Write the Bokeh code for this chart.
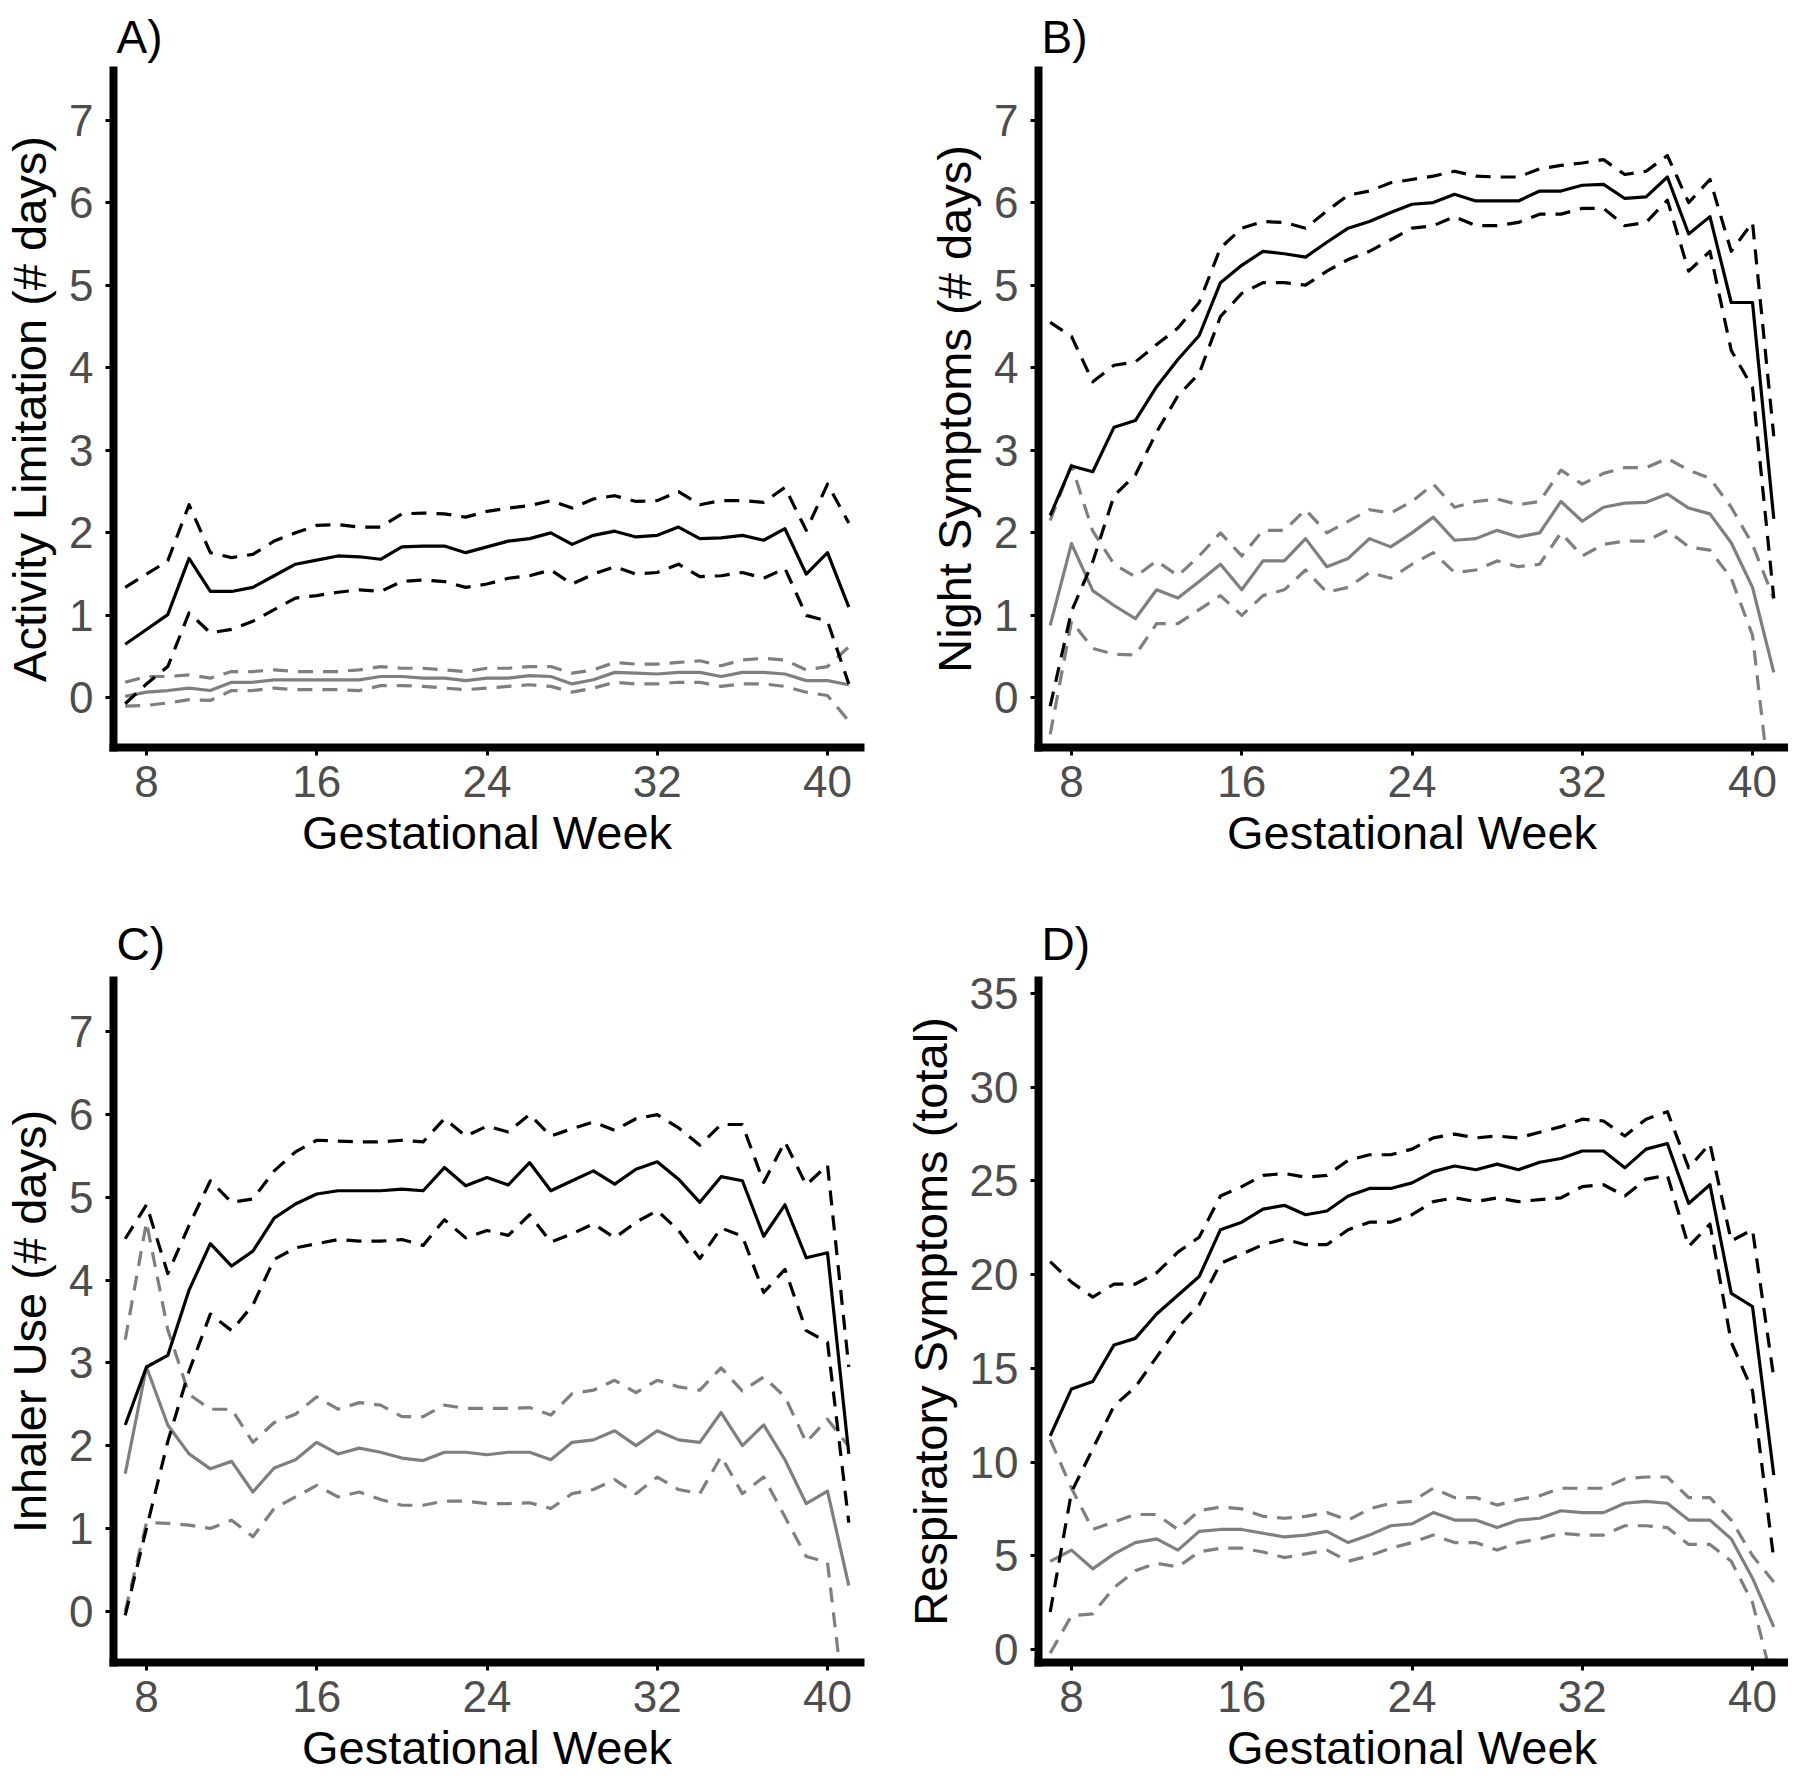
from bokeh.plotting import figure
from bokeh.layouts import gridplot
from bokeh.models import FixedTicker, Range1d, ColumnDataSource
from bokeh.embed import file_html
from bokeh.resources import INLINE

weeks = list(range(7, 42))
x_ticks = [8, 16, 24, 32, 40]

# Panel A: Activity Limitation
a_mean = [0.65, 0.83, 1.01, 1.69, 1.29, 1.29, 1.34, 1.48, 1.62, 1.67, 1.72, 1.71, 1.68, 1.83, 1.84, 1.84, 1.76, 1.83, 1.90, 1.93, 2.00, 1.86, 1.97, 2.02, 1.95, 1.97, 2.07, 1.93, 1.94, 1.97, 1.91, 2.05, 1.50, 1.76, 1.10]
a_hi = [1.34, 1.50, 1.66, 2.34, 1.76, 1.70, 1.74, 1.90, 2.00, 2.09, 2.10, 2.07, 2.07, 2.23, 2.24, 2.23, 2.19, 2.26, 2.30, 2.33, 2.39, 2.30, 2.41, 2.45, 2.38, 2.39, 2.50, 2.34, 2.39, 2.39, 2.37, 2.55, 2.03, 2.59, 2.12]
a_lo = [-0.07, 0.17, 0.38, 1.03, 0.79, 0.83, 0.93, 1.07, 1.21, 1.24, 1.28, 1.31, 1.29, 1.41, 1.43, 1.41, 1.34, 1.38, 1.45, 1.48, 1.55, 1.38, 1.50, 1.59, 1.50, 1.52, 1.62, 1.47, 1.48, 1.52, 1.45, 1.57, 1.00, 0.93, 0.17]
a_g_mean = [0.02, 0.07, 0.09, 0.12, 0.09, 0.19, 0.19, 0.22, 0.22, 0.22, 0.22, 0.22, 0.26, 0.26, 0.24, 0.24, 0.21, 0.24, 0.24, 0.27, 0.26, 0.17, 0.22, 0.31, 0.30, 0.29, 0.31, 0.31, 0.26, 0.31, 0.31, 0.29, 0.21, 0.21, 0.16]
a_g_hi = [0.19, 0.26, 0.26, 0.28, 0.24, 0.32, 0.32, 0.34, 0.32, 0.32, 0.32, 0.34, 0.38, 0.36, 0.36, 0.34, 0.32, 0.36, 0.36, 0.38, 0.38, 0.30, 0.34, 0.43, 0.41, 0.41, 0.43, 0.45, 0.39, 0.46, 0.48, 0.46, 0.34, 0.38, 0.62]
a_g_lo = [-0.10, -0.09, -0.06, -0.02, -0.03, 0.09, 0.09, 0.12, 0.10, 0.10, 0.10, 0.09, 0.15, 0.15, 0.14, 0.12, 0.10, 0.12, 0.14, 0.16, 0.14, 0.07, 0.12, 0.19, 0.17, 0.17, 0.19, 0.19, 0.14, 0.17, 0.17, 0.14, 0.07, 0.03, -0.28]

# Panel B: Night Symptoms
b_mean = [2.21, 2.81, 2.74, 3.28, 3.36, 3.77, 4.10, 4.39, 5.03, 5.24, 5.41, 5.38, 5.34, 5.52, 5.69, 5.77, 5.88, 5.98, 6.00, 6.10, 6.02, 6.02, 6.02, 6.14, 6.14, 6.21, 6.22, 6.05, 6.07, 6.31, 5.62, 5.83, 4.79, 4.79, 2.17]
b_hi = [4.55, 4.38, 3.83, 4.03, 4.07, 4.28, 4.48, 4.79, 5.45, 5.69, 5.77, 5.76, 5.69, 5.90, 6.09, 6.14, 6.24, 6.28, 6.32, 6.38, 6.32, 6.31, 6.31, 6.41, 6.45, 6.48, 6.52, 6.34, 6.38, 6.57, 6.00, 6.28, 5.41, 5.76, 3.17]
b_lo = [-0.10, 1.05, 1.65, 2.45, 2.70, 3.22, 3.66, 3.93, 4.62, 4.90, 5.03, 5.03, 5.00, 5.17, 5.31, 5.41, 5.55, 5.69, 5.72, 5.83, 5.72, 5.72, 5.76, 5.86, 5.86, 5.93, 5.93, 5.72, 5.76, 6.03, 5.17, 5.41, 4.21, 3.76, 1.21]
b_g_mean = [0.88, 1.87, 1.30, 1.12, 0.96, 1.31, 1.21, 1.41, 1.62, 1.31, 1.66, 1.66, 1.93, 1.59, 1.69, 1.93, 1.83, 2.00, 2.19, 1.91, 1.93, 2.03, 1.95, 2.00, 2.38, 2.14, 2.31, 2.36, 2.37, 2.47, 2.30, 2.23, 1.88, 1.34, 0.31]
b_g_hi = [2.15, 2.82, 2.02, 1.62, 1.47, 1.66, 1.48, 1.72, 2.00, 1.72, 2.03, 2.03, 2.28, 2.00, 2.14, 2.28, 2.24, 2.38, 2.59, 2.31, 2.38, 2.41, 2.34, 2.38, 2.76, 2.59, 2.72, 2.79, 2.79, 2.90, 2.76, 2.66, 2.31, 1.86, 1.20]
b_g_lo = [-0.44, 0.93, 0.60, 0.53, 0.52, 0.90, 0.90, 1.07, 1.24, 1.00, 1.24, 1.31, 1.55, 1.28, 1.34, 1.52, 1.45, 1.62, 1.76, 1.52, 1.55, 1.66, 1.59, 1.62, 2.00, 1.72, 1.86, 1.90, 1.90, 2.03, 1.83, 1.79, 1.45, 0.76, -1.50]

# Panel C: Inhaler Use
c_mean = [2.25, 2.95, 3.09, 3.88, 4.44, 4.17, 4.35, 4.75, 4.92, 5.04, 5.08, 5.08, 5.08, 5.10, 5.08, 5.36, 5.14, 5.24, 5.15, 5.42, 5.08, 5.20, 5.32, 5.16, 5.34, 5.43, 5.22, 4.94, 5.25, 5.20, 4.53, 4.91, 4.27, 4.33, 1.90]
c_hi = [4.50, 4.91, 4.08, 4.66, 5.20, 4.94, 4.98, 5.32, 5.55, 5.69, 5.68, 5.67, 5.67, 5.69, 5.67, 5.95, 5.74, 5.86, 5.79, 6.00, 5.74, 5.83, 5.91, 5.81, 5.95, 6.00, 5.84, 5.63, 5.88, 5.88, 5.18, 5.67, 5.15, 5.39, 2.95]
c_lo = [-0.05, 1.00, 2.05, 2.90, 3.59, 3.39, 3.70, 4.25, 4.39, 4.44, 4.49, 4.47, 4.47, 4.49, 4.42, 4.73, 4.51, 4.60, 4.54, 4.79, 4.46, 4.56, 4.68, 4.51, 4.70, 4.84, 4.60, 4.26, 4.63, 4.53, 3.85, 4.13, 3.39, 3.25, 1.07]
c_g_mean = [1.66, 2.95, 2.25, 1.90, 1.72, 1.81, 1.44, 1.73, 1.83, 2.04, 1.90, 1.97, 1.92, 1.85, 1.82, 1.92, 1.92, 1.89, 1.92, 1.92, 1.83, 2.04, 2.07, 2.18, 2.00, 2.18, 2.07, 2.04, 2.40, 2.00, 2.25, 1.83, 1.30, 1.45, 0.31]
c_g_hi = [3.28, 4.70, 3.40, 2.62, 2.44, 2.44, 2.04, 2.28, 2.38, 2.59, 2.44, 2.52, 2.49, 2.35, 2.35, 2.49, 2.45, 2.45, 2.45, 2.46, 2.37, 2.63, 2.67, 2.79, 2.64, 2.79, 2.71, 2.67, 2.94, 2.66, 2.83, 2.59, 2.04, 2.32, 1.99]
c_g_lo = [0.00, 1.07, 1.06, 1.04, 1.00, 1.10, 0.90, 1.24, 1.38, 1.52, 1.38, 1.44, 1.35, 1.28, 1.28, 1.33, 1.33, 1.30, 1.30, 1.31, 1.24, 1.42, 1.47, 1.59, 1.42, 1.62, 1.47, 1.42, 1.87, 1.42, 1.62, 1.14, 0.66, 0.59, -1.60]

# Panel D: Respiratory Symptoms (total)
d_mean = [11.4, 13.9, 14.3, 16.25, 16.6, 17.9, 18.9, 19.9, 22.4, 22.8, 23.5, 23.7, 23.2, 23.4, 24.2, 24.6, 24.6, 24.9, 25.5, 25.8, 25.6, 25.9, 25.6, 26.0, 26.2, 26.6, 26.6, 25.7, 26.7, 27.0, 23.8, 24.8, 19.0, 18.3, 9.3]
d_hi = [20.7, 19.6, 18.8, 19.5, 19.5, 20.1, 21.2, 22.0, 24.2, 24.7, 25.3, 25.4, 25.2, 25.3, 26.1, 26.4, 26.4, 26.7, 27.3, 27.5, 27.3, 27.4, 27.3, 27.6, 27.9, 28.3, 28.2, 27.4, 28.3, 28.7, 25.7, 27.0, 21.8, 22.4, 14.5]
d_lo = [2.0, 8.4, 10.7, 13.0, 14.0, 15.6, 17.2, 18.4, 20.6, 21.1, 21.6, 21.9, 21.6, 21.6, 22.4, 22.8, 22.8, 23.2, 23.9, 24.1, 23.9, 24.1, 23.9, 24.0, 24.1, 24.7, 24.8, 24.2, 25.1, 25.3, 21.5, 22.7, 16.4, 13.8, 4.8]
d_g_mean = [4.7, 5.3, 4.3, 5.1, 5.7, 5.9, 5.3, 6.3, 6.4, 6.4, 6.2, 6.0, 6.1, 6.3, 5.7, 6.1, 6.6, 6.7, 7.3, 6.9, 6.9, 6.5, 6.9, 7.0, 7.4, 7.3, 7.3, 7.8, 7.9, 7.8, 6.9, 6.9, 5.9, 3.8, 1.2]
d_g_hi = [11.2, 8.6, 6.4, 6.8, 7.2, 7.2, 6.4, 7.4, 7.6, 7.5, 7.1, 7.0, 7.1, 7.3, 6.9, 7.5, 7.8, 7.9, 8.6, 8.1, 8.1, 7.7, 8.0, 8.2, 8.6, 8.6, 8.6, 9.1, 9.2, 9.2, 8.1, 8.1, 6.9, 5.0, 3.6]
d_g_lo = [-0.2, 1.8, 1.9, 3.3, 4.2, 4.6, 4.4, 5.2, 5.4, 5.4, 5.2, 4.9, 5.1, 5.3, 4.7, 5.0, 5.4, 5.7, 6.1, 5.7, 5.7, 5.3, 5.7, 5.9, 6.2, 6.1, 6.1, 6.6, 6.6, 6.5, 5.6, 5.6, 4.7, 2.5, -2.0]

y_ticks_days = [0, 1, 2, 3, 4, 5, 6, 7]
y_ticks_total = [0, 5, 10, 15, 20, 25, 30, 35]

FONT = "Liberation Sans"
GREY = "#7F7F7F"
DASH = "15 10"


def make_panel(label, ytitle, series, yrange, yticks, left, right, top, bottom, fh, tstand):
    src = ColumnDataSource(dict(week=weeks, mean=series[0], hi=series[1], lo=series[2],
                                g_mean=series[3], g_hi=series[4], g_lo=series[5]))
    p = figure(frame_width=747, frame_height=fh,
               x_range=Range1d(6.45, 41.55), y_range=Range1d(*yrange),
               output_backend="svg", toolbar_location=None,
               min_border_left=left, min_border_right=right,
               min_border_top=top, min_border_bottom=bottom)
    p.title.text = label
    p.title.align = "left"
    p.title.text_font = FONT
    p.title.text_font_size = "46px"
    p.title.text_font_style = "normal"
    p.title.text_color = "black"
    p.title.standoff = tstand
    p.title.offset = 3

    p.xgrid.grid_line_color = None
    p.ygrid.grid_line_color = None
    p.outline_line_color = None

    for col, dash in (("g_hi", DASH), ("g_lo", DASH), ("g_mean", "solid")):
        p.line("week", col, source=src, line_color=GREY, line_width=3.2,
               line_dash=dash, line_join="round")
    for col, dash in (("hi", DASH), ("lo", DASH), ("mean", "solid")):
        p.line("week", col, source=src, line_color="black", line_width=3.2,
               line_dash=dash, line_join="round")

    p.xaxis.ticker = FixedTicker(ticks=x_ticks)
    p.yaxis.ticker = FixedTicker(ticks=yticks)
    p.xaxis.axis_label = "Gestational Week"
    p.yaxis.axis_label = ytitle
    for ax in (p.xaxis[0], p.yaxis[0]):
        ax.axis_line_width = 8
        ax.axis_line_color = "black"
        ax.axis_line_cap = "square"
        ax.major_tick_line_width = 3
        ax.major_tick_line_color = "black"
        ax.major_tick_out = 8
        ax.major_tick_in = 0
        ax.minor_tick_line_color = None
        ax.major_label_text_font = FONT
        ax.major_label_text_font_size = "44px"
        ax.major_label_text_color = "#4D4D4D"
        ax.axis_label_text_font = FONT
        ax.axis_label_text_font_size = "47px"
        ax.axis_label_text_font_style = "normal"
        ax.axis_label_text_color = "black"
    p.xaxis.major_label_standoff = 10
    p.xaxis.axis_label_standoff = 6
    p.yaxis.major_label_standoff = 12
    p.yaxis.axis_label_standoff = 10
    return p


pA = make_panel("A)", "Activity Limitation (# days)",
                [a_mean, a_hi, a_lo, a_g_mean, a_g_hi, a_g_lo],
                (-0.6, 7.6), y_ticks_days, 109, 36, 69, 140, 677, 16)
pB = make_panel("B)", "Night Symptoms (# days)",
                [b_mean, b_hi, b_lo, b_g_mean, b_g_hi, b_g_lo],
                (-0.6, 7.6), y_ticks_days, 142, 3, 69, 140, 677, 16)
pC = make_panel("C)", "Inhaler Use (# days)",
                [c_mean, c_hi, c_lo, c_g_mean, c_g_hi, c_g_lo],
                (-0.62, 7.62), y_ticks_days, 109, 36, 93, 111, 682, 22)
pD = make_panel("D)", "Respiratory Symptoms (total)",
                [d_mean, d_hi, d_lo, d_g_mean, d_g_hi, d_g_lo],
                (-0.7, 35.7), y_ticks_total, 142, 3, 93, 111, 682, 22)

grid = gridplot([[pA, pB], [pC, pD]], toolbar_location=None)

open("out.html", "w").write(file_html(grid, INLINE))
